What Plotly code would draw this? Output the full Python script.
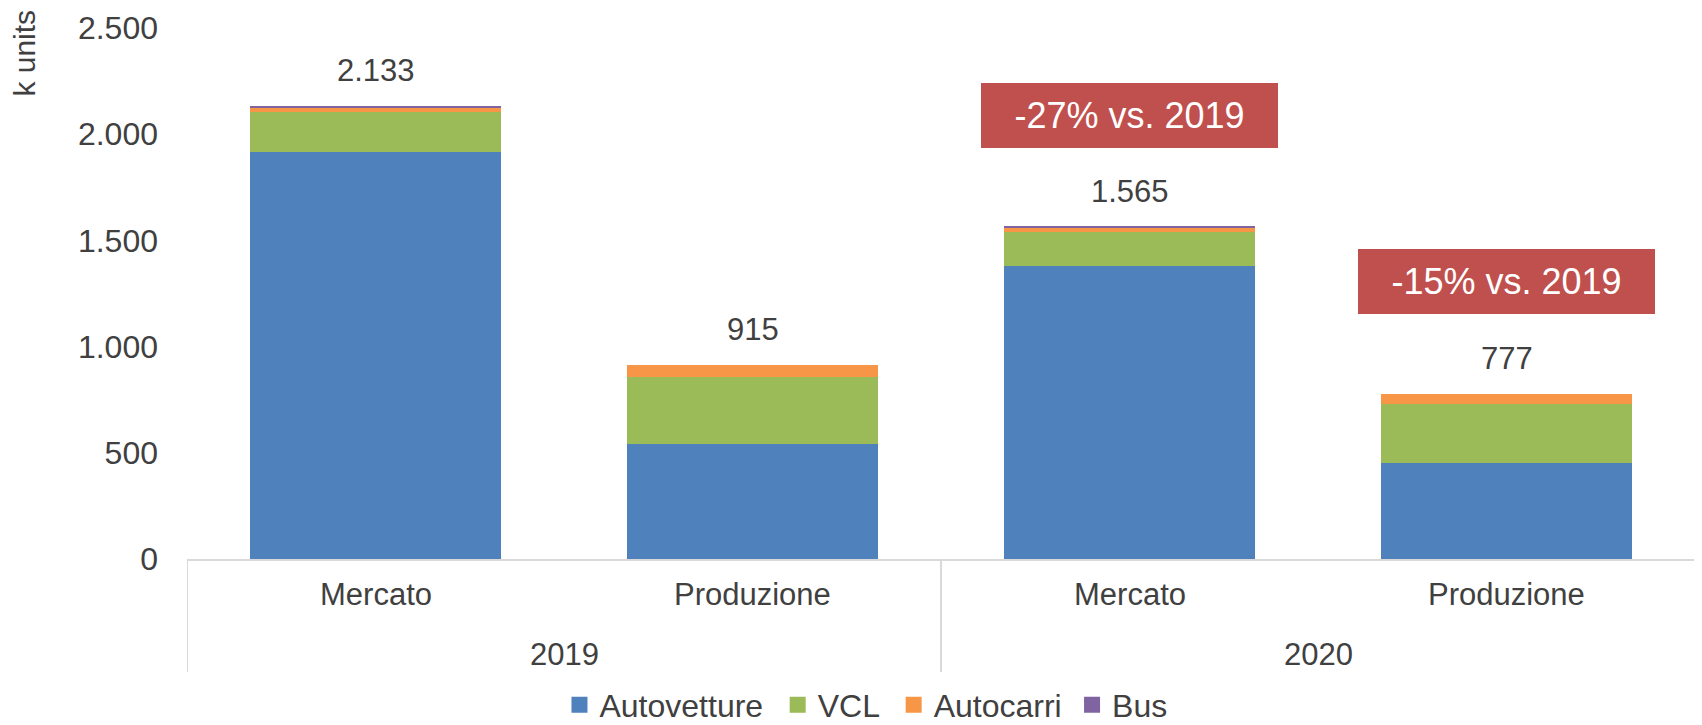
import plotly.graph_objects as go

years = ["2019", "2019", "2020", "2020"]
categories = ["Mercato", "Produzione", "Mercato", "Produzione"]
autovetture = [1916, 542, 1381, 452]
vcl = [188, 313, 160, 277]
autocarri = [23, 60, 20, 48]
bus = [6, 0, 4, 0]
series_names = ["Autovetture", "VCL", "Autocarri", "Bus"]
series_colors = ["#4F81BD", "#9BBB59", "#F79646", "#8064A2"]
badges = ["-27% vs. 2019", "-15% vs. 2019"]
badge_bar_index = [2, 3]
badge_values = [2088, 1308]

FONT = "Liberation Sans, Arial, sans-serif"
TXT = "#404040"
GRID = "#D9D9D9"

xs = list(range(len(categories)))
series = [autovetture, vcl, autocarri, bus]
totals = [sum(v) for v in zip(*series)]

# x (paper) of each legend entry, one legend box per series
legend_x = [0.2470, 0.3917, 0.4686, 0.5869]
legend_ids = ["legend", "legend2", "legend3", "legend4"]

fig = go.Figure()
for name, vals, col in zip(series_names, series, series_colors):
    fig.add_trace(go.Bar(x=xs, y=vals, name=name, marker=dict(color=col, line=dict(width=0)),
                         width=0.665, showlegend=False, hoverinfo="y"))
for name, col, lid in zip(series_names, series_colors, legend_ids):
    fig.add_trace(go.Scatter(x=[None], y=[None], mode="markers", name=name, legend=lid,
                             marker=dict(symbol="square", size=18, color=col)))

ann = []
for x, t in zip(xs, totals):
    ann.append(dict(x=x, y=t, xref="x", yref="y", text=f"{t:,}".replace(",", "."),
                    showarrow=False, yanchor="middle", yshift=35,
                    font=dict(family=FONT, size=31, color=TXT)))
for x, c in zip(xs, categories):
    ann.append(dict(x=x, y=-0.0677, xref="x", yref="paper", text=c, showarrow=False,
                    yanchor="middle", font=dict(family=FONT, size=31, color=TXT)))
uniq_years = sorted(set(years))
for yv in uniq_years:
    idx = [i for i, y in enumerate(years) if y == yv]
    ann.append(dict(x=sum(idx) / len(idx), y=-0.1806, xref="x", yref="paper", text=yv,
                    showarrow=False, yanchor="middle", font=dict(family=FONT, size=31, color=TXT)))
for text, bi, bv in zip(badges, badge_bar_index, badge_values):
    ann.append(dict(x=bi, y=bv, xref="x", yref="y", text=text, showarrow=False,
                    xanchor="center", yanchor="middle", bgcolor="#C0504D",
                    width=297, height=65, borderpad=0, borderwidth=0,
                    font=dict(family=FONT, size=36, color="white")))
ann.append(dict(x=-0.108, y=0.952, xref="paper", yref="paper", text="k units", textangle=-90,
                showarrow=False, xanchor="center", yanchor="middle",
                font=dict(family=FONT, size=30, color=TXT)))

shapes = []
divs = [-0.5]
for i in range(1, len(years)):
    if years[i] != years[i - 1]:
        divs.append(i - 0.5)
divs.append(len(years) - 0.5)
for d in divs:
    shapes.append(dict(type="line", xref="x", yref="paper", x0=d, x1=d, y0=0, y1=-0.2126,
                       line=dict(color=GRID, width=2)))

legends = {}
for lid, lx in zip(legend_ids, legend_x):
    legends[lid] = dict(orientation="h", x=lx, xanchor="left",
                        yref="container", y=0.0279, yanchor="middle",
                        font=dict(family=FONT, size=32, color=TXT), itemclick=False,
                        bgcolor="rgba(0,0,0,0)")

# page body has an 8px margin: figure is offset by 8px right/down
fig.update_layout(
    width=1694, height=717,
    margin=dict(l=179, r=7, t=19.5, b=166, autoexpand=False),
    barmode="stack",
    plot_bgcolor="white", paper_bgcolor="white",
    separators=",.",
    font=dict(family=FONT, size=30, color=TXT),
    xaxis=dict(range=[-0.5, len(xs) - 0.5], showticklabels=False, showgrid=False, zeroline=False,
               showline=True, linecolor=GRID, linewidth=2, ticks="", automargin=False),
    yaxis=dict(range=[0, 2500], dtick=500, tickformat=",", showgrid=False, zeroline=False,
               showline=False, ticks="", ticklabelstandoff=28, automargin=False,
               tickfont=dict(family=FONT, size=32, color=TXT)),
    annotations=ann,
    shapes=shapes,
    bargap=0.335,
    **legends,
)

fig.write_html("out.html")
